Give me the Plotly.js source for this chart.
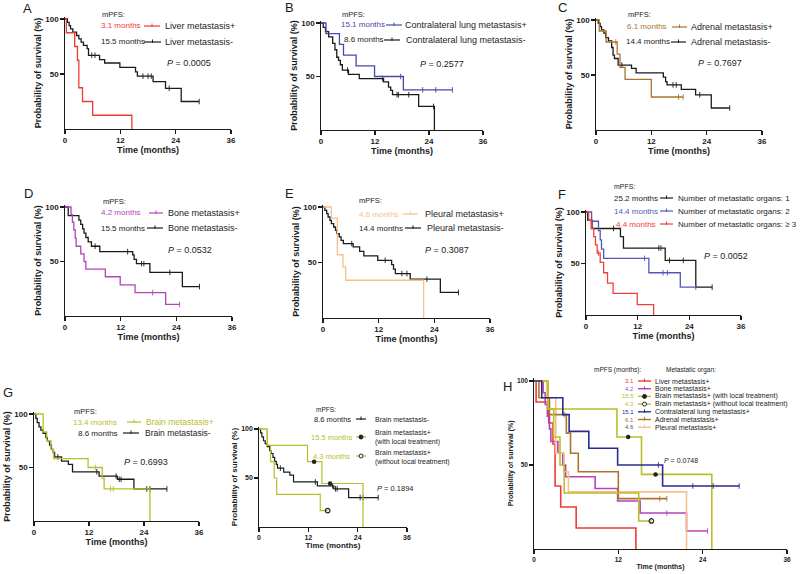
<!DOCTYPE html>
<html><head><meta charset="utf-8">
<script src="https://cdn.plot.ly/plotly-3.0.1.min.js"></script>
<style>html,body{margin:0;padding:0;background:#fff}#chart{width:800px;height:574px}</style>
</head><body><div id="chart"></div>
<script>
// ================= DATA (months / % survival) =================
// A: liver metastasis
const liverPosT = [0, 0.3, 2.1, 2.7, 3.0, 3.8, 6.0, 14.5];
const liverPosS = [100, 87.5, 75, 62.5, 37.5, 25, 12.5, 0];
const liverPosC = [];
const liverNegT = [0, 0.5, 0.9, 1.2, 1.7, 2.5, 3.0, 3.5, 4.0, 4.8, 5.1, 7.5, 8.6, 11.9, 15.3, 15.7, 19.1, 21.8, 25.2, 29.1];
const liverNegS = [100, 97, 94, 91, 88, 85, 82, 79, 76, 73, 67, 63, 60, 56, 52, 48, 43, 37, 25, 25];
const liverNegC = [5.8, 6.5, 16.9, 18.0, 18.7, 22.6, 29.1];
// B: contralateral lung metastasis
const lungPosT = [0, 1.1, 4.1, 5.0, 7.8, 11.9, 18.3, 29.2];
const lungPosS = [100, 90, 80, 70, 60, 50, 37.5, 37.5];
const lungPosC = [17.7, 22.6, 25.5, 29.2];
const lungNegT = [0, 0.5, 1.0, 1.7, 2.6, 3.1, 3.5, 3.9, 4.3, 4.75, 6.1, 8.5, 13.9, 15.0, 15.5, 15.9, 21.7, 25.2];
const lungNegS = [100, 96, 92, 87, 81, 75, 68, 65, 61, 56, 52, 48, 45, 40, 37, 33, 22, 0];
const lungNegC = [5.9, 13.7, 16.9, 17.2, 19.5, 25.0];
// C: adrenal metastasis
const adrPosT = [0, 0.7, 2.2, 4.6, 5.2, 6.3, 12.0, 18.9];
const adrPosS = [100, 90, 80, 69, 57, 46, 30, 30];
const adrPosC = [4.3, 17.9, 18.9];
const adrNegT = [0, 0.5, 0.9, 1.2, 1.7, 2.1, 2.7, 3.4, 3.7, 4.0, 4.8, 7.7, 8.7, 14.6, 15.1, 15.4, 18.5, 21.6, 25.0, 29.0];
const adrNegS = [100, 97, 94, 91, 88, 84, 81, 75, 68, 65, 59, 56, 52, 48, 44, 41, 37, 32, 20, 20];
const adrNegC = [5.6, 16.7, 17.4, 22.5, 29.0];
// D: bone metastasis
const bonePosT = [0, 1.3, 1.6, 1.9, 2.2, 2.4, 3.4, 4.1, 4.5, 8.7, 11.9, 15.1, 21.7, 24.7];
const bonePosS = [100, 93, 86, 79, 71.5, 64, 57, 50, 43, 36, 28.6, 21.4, 10.7, 10.7];
const bonePosC = [18.9, 24.7];
const boneNegT = [0, 0.7, 3.0, 3.4, 3.8, 4.1, 4.5, 5.0, 5.7, 7.5, 14.6, 14.9, 15.4, 18.3, 25.3, 29.0];
const boneNegS = [100, 92, 88, 84, 80, 76, 72, 68, 64, 59, 56, 52, 48, 40, 27, 27];
const boneNegC = [6.5, 13.5, 16.5, 17.0, 22.6, 29.0];
// E: pleural metastasis
const pleuPosT = [0, 1.8, 3.1, 4.3, 4.9, 21.7];
const pleuPosS = [100, 90, 57, 46, 34, 0];
const pleuPosC = [];
const pleuNegT = [0, 0.4, 0.8, 1.1, 1.5, 1.8, 2.3, 2.7, 3.0, 3.5, 3.9, 4.4, 6.5, 7.9, 8.8, 11.8, 14.8, 15.2, 15.6, 18.8, 25.3, 29.2];
const pleuNegS = [100, 97, 94, 91, 88, 85, 82, 79, 76, 73, 70, 67, 64, 60, 56, 52, 48, 44, 40, 35, 23, 23];
const pleuNegC = [6.2, 13.4, 17.0, 18.1, 22.4, 29.2];
// F: number of metastatic organs
const org1T = [0, 0.4, 1.4, 8.0, 8.7, 18.4, 25.5, 29.3];
const org1S = [100, 92, 84, 76, 65, 53, 27, 27];
const org1C = [6.4, 16.9, 17.4, 19.4, 22.6, 29.3];
const org2T = [0, 1.3, 2.9, 3.3, 3.6, 4.1, 14.6, 21.9, 25.5];
const org2S = [100, 91, 82, 73, 64, 55, 41, 27, 27];
const org2C = [13.6, 17.9, 18.9, 25.5];
const org3T = [0, 0.6, 1.2, 1.8, 2.2, 2.6, 3.3, 4.1, 5.0, 6.3, 11.9, 15.7];
const org3S = [100, 92, 84, 76, 68, 60, 51, 41, 31, 21, 10, 0];
const org3C = [2.9];
// G: brain metastasis
const brainNegT = [0, 0.4, 0.7, 1.1, 1.5, 2.0, 2.6, 2.9, 3.4, 3.8, 4.2, 4.5, 6.0, 7.5, 8.4, 14.2, 18.2, 21.8, 29.0];
const brainNegS = [100, 96, 92, 88, 85, 82, 78, 75, 71, 67, 64, 60, 56, 53, 46, 42, 39, 30, 30];
const brainNegC = [5.2, 13.7, 17.9, 18.6, 19.0, 24.6, 25.3, 29.0];
const brainPosT = [0, 2.0, 2.8, 3.7, 4.3, 11.8, 14.9, 15.3, 25.3];
const brainPosS = [100, 83.3, 75, 66.7, 58.3, 50, 40, 30, 0];
const brainPosC = [13.4, 16.7, 17.3];
const brainLocT = [0, 2.0, 11.8, 15.3, 25.3];
const brainLocS = [100, 83.3, 66.7, 44.4, 0];
const brainLocC = [13.4, 17.3];
const brainNoLocT = [0, 2.0, 2.8, 3.7, 4.3, 14.9, 16.7];
const brainNoLocS = [100, 83.3, 66.7, 50, 33.3, 16.7, 16.7];
const brainNoLocC = [16.7];
// tick labels
const xTicks = [0, 12, 24, 36];
const yTicks = [50, 100];

// ================= STYLE =================
const W = 800, H = 574;
const FONT = 'Liberation Sans, Arial, Helvetica, sans-serif';
const BLACK = '#1b1b1b', RED = '#ef3b36', BLUE_B = '#4848a8', BROWN = '#a9762f', PURPLE = '#b543b8',
      ORANGE = '#f7c08c', BLUE_F = '#5656ba', RED_F = '#f0403c', YEL = '#b9be2a', NAVY = '#2c2c8e';

// plot areas in pixels: t=0, t=36, 0 %, 100 %
const panels = [
  {x0: 65, x36: 231, y0: 129, y100: 19, tf: 8, ttf: 9, lw: 1.3},
  {x0: 321, x36: 483, y0: 130, y100: 23, tf: 8, ttf: 9, lw: 1.3},
  {x0: 596, x36: 762, y0: 130, y100: 20, tf: 8, ttf: 9, lw: 1.3},
  {x0: 65, x36: 232, y0: 316, y100: 207, tf: 8, ttf: 9, lw: 1.3},
  {x0: 323, x36: 490, y0: 318, y100: 207, tf: 8, ttf: 9, lw: 1.3},
  {x0: 586, x36: 741, y0: 315, y100: 212, tf: 8, ttf: 9, lw: 1.3},
  {x0: 34, x36: 199, y0: 521, y100: 414, tf: 8, ttf: 9, lw: 1.3},
  {x0: 259, x36: 407, y0: 527, y100: 429, tf: 7, ttf: 8, lw: 1.2},
  {x0: 534, x36: 787, y0: 549, y100: 381, tf: 6.5, ttf: 7, lw: 1.3}
];

const layout = {
  width: W, height: H, margin: {l: 0, r: 0, t: 0, b: 0},
  paper_bgcolor: '#fff', plot_bgcolor: 'rgba(0,0,0,0)', showlegend: false,
  font: {family: FONT, color: BLACK}, annotations: [], shapes: []
};
panels.forEach((p, i) => {
  const n = i === 0 ? '' : (i + 1);
  const top = p.y0 - (p.y0 - p.y100) * 1.02;
  layout['xaxis' + n] = {
    domain: [p.x0 / W, p.x36 / W], range: [0, 36], anchor: 'y' + n, tickvals: xTicks,
    showline: true, linecolor: BLACK, linewidth: p.lw, ticks: 'outside', ticklen: 3.5, tickwidth: p.lw,
    tickcolor: BLACK, showgrid: false, zeroline: false, fixedrange: true,
    tickfont: {family: FONT, size: p.tf, weight: 'bold', color: BLACK},
    title: {text: 'Time (months)', font: {family: FONT, size: p.ttf, weight: 'bold', color: BLACK}, standoff: 2}
  };
  layout['yaxis' + n] = {
    domain: [1 - p.y0 / H, 1 - top / H], range: [0, 102], anchor: 'x' + n, tickvals: yTicks,
    showline: true, linecolor: BLACK, linewidth: p.lw, ticks: 'outside', ticklen: 3.5, tickwidth: p.lw,
    tickcolor: BLACK, showgrid: false, zeroline: false, fixedrange: true,
    tickfont: {family: FONT, size: p.tf, weight: 'bold', color: BLACK},
    title: {text: 'Probability of survival (%)', font: {family: FONT, size: p.ttf, weight: 'bold', color: BLACK}, standoff: 2}
  };
});

function stepAt(T, S, t) {
  let v = S[0];
  for (let i = 0; i < T.length; i++) { if (T[i] <= t) v = S[i]; }
  return v;
}
const traces = [];
function km(pi, T, S, C, color, mark, width) {
  const n = pi === 0 ? '' : (pi + 1);
  traces.push({x: T, y: S, mode: 'lines', line: {shape: 'hv', color: color, width: width || 1.3},
    xaxis: 'x' + n, yaxis: 'y' + n, hoverinfo: 'skip'});
  if (C.length) {
    let marker;
    if (mark === 'dot') marker = {symbol: 'circle', size: 4.5, color: '#222', line: {width: 0}};
    else if (mark === 'open') marker = {symbol: 'circle-open', size: 4.5, color: '#222', line: {width: 1.2, color: '#222'}};
    else marker = {symbol: 'line-ns', size: 4, line: {width: 0.9, color: color}};
    traces.push({x: C, y: C.map(t => stepAt(T, S, t)), mode: 'markers', marker: marker,
      xaxis: 'x' + n, yaxis: 'y' + n, cliponaxis: false, hoverinfo: 'skip'});
  }
}
// A
km(0, liverNegT, liverNegS, liverNegC, BLACK);
km(0, liverPosT, liverPosS, liverPosC, RED);
// B
km(1, lungNegT, lungNegS, lungNegC, BLACK);
km(1, lungPosT, lungPosS, lungPosC, BLUE_B);
// C
km(2, adrNegT, adrNegS, adrNegC, BLACK);
km(2, adrPosT, adrPosS, adrPosC, BROWN);
// D
km(3, boneNegT, boneNegS, boneNegC, BLACK);
km(3, bonePosT, bonePosS, bonePosC, PURPLE);
// E
km(4, pleuNegT, pleuNegS, pleuNegC, BLACK);
km(4, pleuPosT, pleuPosS, pleuPosC, ORANGE);
// F
km(5, org1T, org1S, org1C, BLACK);
km(5, org2T, org2S, org2C, BLUE_F);
km(5, org3T, org3S, org3C, RED_F);
// G left
km(6, brainNegT, brainNegS, brainNegC, BLACK);
km(6, brainPosT, brainPosS, brainPosC, YEL);
// G right
km(7, brainNegT, brainNegS, brainNegC, BLACK, null, 1.2);
km(7, brainLocT, brainLocS, brainLocC, YEL, 'dot', 1.2);
km(7, brainNoLocT, brainNoLocS, brainNoLocC, YEL, 'open', 1.2);
// H
km(8, liverPosT, liverPosS, liverPosC, RED, null, 1.6);
km(8, bonePosT, bonePosS, bonePosC, PURPLE, null, 1.6);
km(8, pleuPosT, pleuPosS, pleuPosC, ORANGE, null, 1.6);
km(8, adrPosT, adrPosS, adrPosC, BROWN, null, 1.6);
km(8, brainNoLocT, brainNoLocS, brainNoLocC, YEL, 'open', 1.6);
km(8, brainLocT, brainLocS, brainLocC, YEL, 'dot', 1.6);
km(8, lungPosT, lungPosS, lungPosC, NAVY, null, 1.6);

// ================= TEXT & LEGEND SYMBOLS =================
const fx = p => p / W, fy = p => 1 - p / H;
function ann(text, x, y, size, color, xanchor) {
  layout.annotations.push({text: text, x: fx(x), y: fy(y), xref: 'paper', yref: 'paper', showarrow: false,
    xanchor: xanchor || 'left', yanchor: 'middle', borderpad: 0,
    font: {family: FONT, size: size || 9, color: color || BLACK}});
}
function sym(xa, xb, y, color, kind, w) {
  w = w || 1.2;
  layout.shapes.push({type: 'line', xref: 'paper', yref: 'paper', x0: fx(xa), x1: fx(xb), y0: fy(y), y1: fy(y),
    line: {color: color, width: w}});
  const xm = (xa + xb) / 2;
  if (kind === 'dot' || kind === 'open') {
    layout.shapes.push({type: 'circle', xref: 'paper', yref: 'paper', x0: fx(xm - 2), x1: fx(xm + 2), y0: fy(y + 2), y1: fy(y - 2),
      fillcolor: kind === 'dot' ? '#222' : '#fff', line: {color: '#222', width: 1}});
  } else {
    layout.shapes.push({type: 'line', xref: 'paper', yref: 'paper', x0: fx(xm), x1: fx(xm), y0: fy(y - 2.5), y1: fy(y + 1),
      line: {color: color, width: 1}});
  }
}
// A
ann('A', 22, 9, 13);
ann('mPFS:', 101, 14, 7.5);
ann('3.1 months', 100, 26, 8, RED); sym(144, 160, 26, RED); ann('Liver metastasis+', 164, 26, 9);
ann('15.5 months', 100, 42, 8); sym(144, 161, 42, BLACK); ann('Liver metastasis-', 164, 42, 9);
ann('<i>P</i> = 0.0005', 166, 63, 9);
// B
ann('B', 284, 8, 13);
ann('mPFS:', 341, 14, 7.5);
ann('15.1 months', 340, 25, 8, BLUE_B); sym(386, 402, 25, BLUE_B); ann('Contralateral lung metastasis+', 404, 25, 9);
ann('8.6 months', 343, 40, 8); sym(384, 400, 40, BLACK); ann('Contralateral lung metastasis-', 405, 40, 9);
ann('<i>P</i> = 0.2577', 419, 64, 9);
// C
ann('C', 557, 8, 13);
ann('mPFS:', 627, 14, 7.5);
ann('6.1 months', 626, 27, 8, BROWN); sym(672, 687, 27, BROWN); ann('Adrenal metastasis+', 690, 27, 9);
ann('14.4 months', 625, 42, 8); sym(671, 686, 42, BLACK); ann('Adrenal metastasis-', 690, 42, 9);
ann('<i>P</i> = 0.7697', 697, 63, 9);
// D
ann('D', 23, 193, 13);
ann('mPFS:', 102, 201, 7.5);
ann('4.2 months', 100, 213, 8, PURPLE); sym(149, 163, 213, PURPLE); ann('Bone metastasis+', 167, 213, 9);
ann('15.5 months', 100, 228, 8); sym(147, 163, 228, BLACK); ann('Bone metastasis-', 167, 228, 9);
ann('<i>P</i> = 0.0532', 167, 250, 9);
// E
ann('E', 284, 193, 13);
ann('mPFS:', 358, 200, 7.5);
ann('4.6 months', 358, 214, 8, ORANGE); sym(403, 418, 214, ORANGE); ann('Pleural metastasis+', 424, 214, 9);
ann('14.4 months', 358, 228, 8); sym(405, 421, 228, BLACK); ann('Pleural metastasis-', 426, 228, 9);
ann('<i>P</i> = 0.3087', 424, 250, 9);
// F
ann('F', 557, 194, 13);
ann('mPFS:', 613, 186, 7);
ann('25.2 months', 613, 198, 8); sym(660, 673, 198, BLACK); ann('Number of metastatic organs: 1', 677, 198, 8);
ann('14.4 months', 613, 211, 8, BLUE_F); sym(660, 673, 211, BLUE_F); ann('Number of metastatic organs: 2', 677, 211, 8);
ann('4.4 months', 615, 224, 8, RED_F); sym(660, 673, 224, RED_F); ann('Number of metastatic organs: \u2265 3', 677, 224, 8);
ann('<i>P</i> = 0.0052', 703, 256, 9);
// G left
ann('G', 2, 392, 13);
ann('mPFS:', 73, 411, 7.5);
ann('13.4 months', 72, 422, 8, YEL); sym(127, 141, 422, YEL); ann('Brain metastasis+', 145, 422, 8.5, YEL);
ann('8.6 months', 77, 433, 8); sym(123, 139, 433, BLACK); ann('Brain metastasis-', 144, 433, 8.5);
ann('<i>P</i> = 0.6993', 123, 462, 9);
// G right
ann('mPFS:', 315, 409, 6.5);
ann('8.6 months', 313, 419, 7.5); sym(356, 366, 419, BLACK); ann('Brain metastasis-', 374, 419, 7);
ann('15.5 months', 310, 437, 7.5, YEL); sym(356, 366, 437, YEL, 'dot');
ann('Brain metastasis+', 374, 432, 7); ann('(with local treatment)', 374, 442, 7);
ann('4.3 months', 312, 456, 7.5, YEL); sym(356, 366, 456, YEL, 'open');
ann('Brain metastasis+', 374, 452, 7); ann('(without local treatment)', 374, 462, 7);
ann('<i>P</i> = 0.1894', 376, 488, 7.5);
// H
ann('H', 502, 386, 13);
ann('mPFS (months):', 593, 370, 6.5);
ann('Metastatic organ:', 665, 370, 6.5);
const hRows = [
  ['3.1', RED, 'Liver metastasis+', null],
  ['4.2', PURPLE, 'Bone metastasis+', null],
  ['15.5', YEL, 'Brain metastasis+ (with local treatment)', 'dot'],
  ['4.3', YEL, 'Brain metastasis+ (without local treatment)', 'open'],
  ['15.1', NAVY, 'Contralateral lung metastasis+', null],
  ['6.1', BROWN, 'Adrenal metastasis+', null],
  ['4.6', '#555', 'Pleural metastasis+', null]
];
const symColors = [RED, PURPLE, YEL, YEL, NAVY, BROWN, ORANGE];
hRows.forEach((r, i) => {
  const y = 381 + i * 7.7;
  ann(r[0], 635, y, 6, r[1], 'right');
  sym(638, 651, y, symColors[i], r[3], 1.4);
  ann(r[2], 654, y, 7);
});
ann('<i>P</i> = 0.0748', 663, 460, 7);

Plotly.newPlot('chart', traces, layout, {staticPlot: true, displayModeBar: false});
</script>
</body></html>
